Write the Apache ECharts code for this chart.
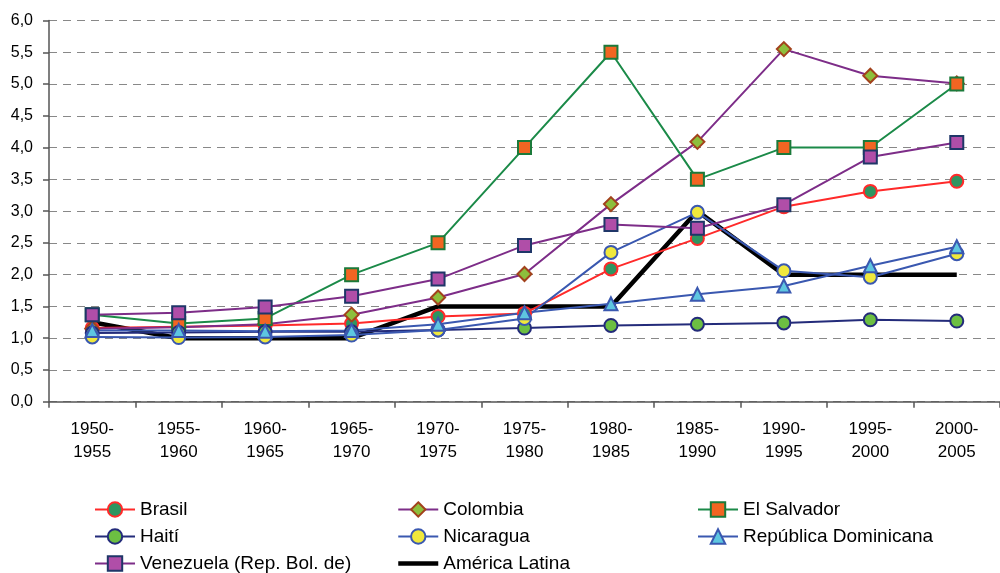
<!DOCTYPE html>
<html>
<head>
<meta charset="utf-8">
<style>
  html, body { margin: 0; padding: 0; background: #fff; }
  #chart { width: 1000px; height: 573px; }
</style>
<script src="https://cdn.jsdelivr.net/npm/echarts@6/dist/echarts.min.js"></script>
</head>
<body>
<div id="chart"></div>
<script>
// periods on the x axis
var periods = ['1950-1955', '1955-1960', '1960-1965', '1965-1970', '1970-1975', '1975-1980',
  '1980-1985', '1985-1990', '1990-1995', '1995-2000', '2000-2005'];

// values
var brasil      = [1.16, 1.18, 1.20, 1.23, 1.34, 1.39, 2.09, 2.57, 3.07, 3.31, 3.47];
var colombia    = [1.15, 1.17, 1.22, 1.37, 1.64, 2.01, 3.11, 4.09, 5.55, 5.13, 5.01];
var elSalvador  = [1.37, 1.23, 1.31, 2.00, 2.50, 4.00, 5.50, 3.50, 4.00, 4.00, 5.00];
var haiti       = [1.08, 1.09, 1.10, 1.10, 1.13, 1.16, 1.20, 1.22, 1.24, 1.29, 1.27];
var nicaragua   = [1.02, 1.01, 1.02, 1.05, 1.13, 1.31, 2.35, 2.98, 2.06, 1.96, 2.33];
var repDom      = [1.12, 1.12, 1.11, 1.12, 1.22, 1.40, 1.54, 1.69, 1.82, 2.14, 2.44];
var venezuela   = [1.37, 1.40, 1.49, 1.66, 1.93, 2.46, 2.79, 2.73, 3.10, 3.85, 4.08];
var americaLat  = [1.25, 1.00, 1.00, 1.00, 1.50, 1.50, 1.50, 3.00, 2.00, 2.00, 2.00];

// y axis ticks
var yMin = 0, yMax = 6, yStep = 0.5;

function lineSeries(name, data, lineColor, symbol, fill, border, size) {
  return {
    name: name,
    type: 'line',
    data: data,
    symbol: symbol,
    symbolSize: size || 13,
    lineStyle: { color: lineColor, width: 2 },
    itemStyle: { color: fill, borderColor: border, borderWidth: 2 },
    emphasis: { disabled: true }
  };
}

var chart = echarts.init(document.getElementById('chart'));

var legendBase = {
  orient: 'vertical',
  top: 500,
  padding: 0,
  itemWidth: 40,
  itemHeight: 18,
  itemGap: 8,
  textStyle: { fontFamily: 'Liberation Sans', fontSize: 19, lineHeight: 18, color: '#000' }
};

chart.setOption({
  animation: false,
  textStyle: { fontFamily: 'Liberation Sans' },
  grid: { left: 49, right: -13, top: 20.5, bottom: 171.3 },
  legend: [
    Object.assign({ left: 94, data: ['Brasil', 'Haití', 'Venezuela (Rep. Bol. de)'] }, legendBase),
    Object.assign({ left: 396, data: ['Colombia', 'Nicaragua',
      { name: 'América Latina', itemStyle: { opacity: 0 }, lineStyle: { width: 4.5 } }] }, legendBase),
    Object.assign({ left: 697, data: ['El Salvador', 'República Dominicana'] }, legendBase)
  ],
  xAxis: {
    type: 'category',
    data: periods,
    boundaryGap: true,
    axisLine: { lineStyle: { color: '#555', width: 1.5 } },
    axisTick: { show: true, length: 6, lineStyle: { color: '#555', width: 1.5 } },
    axisLabel: {
      color: '#000',
      fontSize: 17,
      lineHeight: 23,
      margin: 16,
      interval: 0,
      formatter: function (v) { return v.replace('-', '-\n'); }
    }
  },
  yAxis: {
    type: 'value',
    min: yMin,
    max: yMax,
    interval: yStep,
    axisLine: { show: true, lineStyle: { color: '#555', width: 1.5 } },
    axisTick: { show: true, length: 6, lineStyle: { color: '#555', width: 1.5 } },
    axisLabel: {
      color: '#000',
      fontSize: 16,
      margin: 16,
      formatter: function (v) { return v.toFixed(1).replace('.', ','); }
    },
    splitLine: {
      show: true,
      lineStyle: { color: '#888', width: 1, type: [8, 6] }
    }
  },
  series: [
    lineSeries('Brasil', brasil, '#ff2a2a', 'circle', '#2e9560', '#ff2a2a'),
    lineSeries('Colombia', colombia, '#7d2d88', 'diamond', '#8dbf3c', '#a2421c', 14),
    lineSeries('El Salvador', elSalvador, '#1b8a48', 'rect', '#f26522', '#1b7a3a'),
    lineSeries('Haití', haiti, '#232b7a', 'circle', '#6cbf42', '#232b7a'),
    lineSeries('Nicaragua', nicaragua, '#3a58b0', 'circle', '#f0e83c', '#3a58b0'),
    lineSeries('República Dominicana', repDom, '#3a58b0', 'triangle', '#5ec6e0', '#3a58b0'),
    lineSeries('Venezuela (Rep. Bol. de)', venezuela, '#7d2d88', 'rect', '#b04ea8', '#1f3668'),
    {
      name: 'América Latina',
      type: 'line',
      data: americaLat,
      symbol: 'none',
      z: 1,
      lineStyle: { color: '#000', width: 4.5 },
      itemStyle: { color: '#000' },
      emphasis: { disabled: true }
    }
  ]
});
</script>
</body>
</html>
